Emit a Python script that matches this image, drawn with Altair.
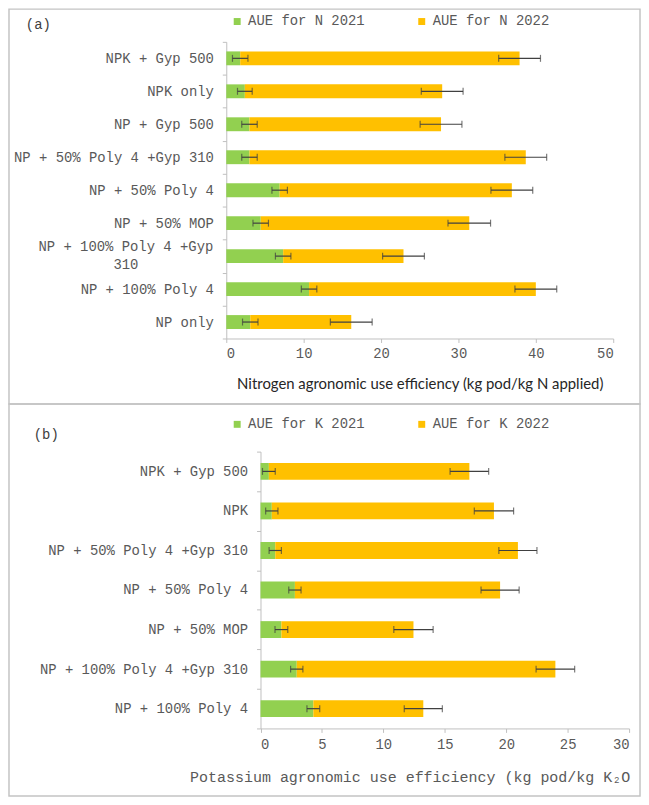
import altair as alt
import pandas as pd

GREEN = "#92D050"
ORANGE = "#FFC000"
MONO = "Liberation Mono"
GREY_TXT = "#595959"
AXIS_LINE = "#BFBFBF"
ERR_COL = "#404040"

# ---------------- Panel (a): nitrogen ----------------
cats_a = ["NPK + Gyp 500", "NPK only", "NP + Gyp 500", "NP + 50% Poly 4 +Gyp 310",
          "NP + 50% Poly 4", "NP + 50% MOP", "NP + 100% Poly 4 +Gyp 310",
          "NP + 100% Poly 4", "NP only"]
n_2021 = [1.8, 2.4, 3.0, 3.0, 6.9, 4.45, 7.35, 10.7, 3.1]
n_2022 = [36.1, 25.5, 24.75, 35.7, 30.0, 26.95, 15.55, 29.3, 13.05]
n_err_2021 = [1.0, 0.95, 1.0, 1.0, 1.0, 1.0, 1.0, 1.0, 1.0]
n_err_2022 = [2.7, 2.7, 2.7, 2.7, 2.7, 2.75, 2.7, 2.7, 2.7]
series_a = ["AUE for N 2021", "AUE for N 2022"]
ticks_a = [0, 10, 20, 30, 40, 50]
title_a = "Nitrogen agronomic use efficiency (kg pod/kg N applied)"

# ---------------- Panel (b): potassium ----------------
cats_b = ["NPK + Gyp 500", "NPK", "NP + 50% Poly 4 +Gyp 310", "NP + 50% Poly 4",
          "NP + 50% MOP", "NP + 100% Poly 4 +Gyp 310", "NP + 100% Poly 4"]
k_2021 = [0.68, 0.92, 1.2, 2.8, 1.7, 2.95, 4.3]
k_2022 = [16.32, 18.08, 19.75, 16.7, 10.75, 21.05, 8.95]
k_err_2021 = [0.52, 0.5, 0.5, 0.5, 0.52, 0.5, 0.52]
k_err_2022 = [1.57, 1.6, 1.55, 1.55, 1.6, 1.57, 1.55]
series_b = ["AUE for K 2021", "AUE for K 2022"]
ticks_b = [0, 5, 10, 15, 20, 25, 30]
title_b = "Potassium agronomic use efficiency (kg pod/kg K\u2082O"

# the one category label that the reference wraps onto two centred lines
WRAPPED = "NP + 100% Poly 4 +Gyp 310"
WRAPPED_LINES = "NP + 100% Poly 4 +Gyp\n310"
hide_wrapped = "datum.value == '" + WRAPPED + "' ? '' : datum.value"


def make_panel(cats, v21, v22, e21, e22, names, xmax, xvals, xtitle, W, H,
               xr, yr, bar_size, tag, tag_xy, legend_xy, title_opts,
               xlabel_pad=4, wrap=False):
    bars, errs = [], []
    for c, a, b, ea, eb in zip(cats, v21, v22, e21, e22):
        bars.append({"cat": c, "series": names[0], "start": 0.0, "end": a})
        bars.append({"cat": c, "series": names[1], "start": a, "end": a + b})
        errs.append({"cat": c, "lo": a - ea, "hi": a + ea})
        errs.append({"cat": c, "lo": a + b - eb, "hi": a + b + eb})
    df_bars = pd.DataFrame(bars)
    df_err = pd.DataFrame(errs)

    yaxis_kw = dict(title=None, offset=-xr[0], tickBand="extent", tickSize=4,
                    tickColor=AXIS_LINE, domainColor=AXIS_LINE, labelPadding=9,
                    labelFont=MONO, labelFontSize=14, labelColor=GREY_TXT,
                    labelLimit=400, grid=False)
    if wrap:
        yaxis_kw["labelExpr"] = hide_wrapped
    yenc = alt.Y("cat:N", sort=cats,
                 scale=alt.Scale(range=list(yr), paddingInner=0, paddingOuter=0),
                 axis=alt.Axis(**yaxis_kw))

    xaxis = alt.Axis(values=xvals, offset=yr[1] - H, tickSize=4, tickColor=AXIS_LINE,
                     domainColor=AXIS_LINE, labelPadding=xlabel_pad, labelFont=MONO,
                     labelFontSize=14, labelColor=GREY_TXT, grid=False,
                     title=xtitle, titleFontWeight="normal", titleBaseline="middle",
                     **title_opts)
    xscale = alt.Scale(domain=[0, xmax], range=list(xr), nice=False)

    bar = alt.Chart(df_bars).mark_bar(size=bar_size).encode(
        y=yenc,
        x=alt.X("start:Q", scale=xscale, axis=xaxis),
        x2="end:Q",
        color=alt.Color("series:N",
                        scale=alt.Scale(domain=names, range=[GREEN, ORANGE]),
                        legend=alt.Legend(title=None, orient="none", direction="horizontal",
                                          legendX=legend_xy[0], legendY=legend_xy[1],
                                          symbolType="square", symbolSize=49,
                                          symbolStrokeWidth=0, labelFont=MONO,
                                          labelFontSize=14, labelColor=GREY_TXT,
                                          labelOffset=4, columnPadding=50, padding=0)),
    )
    rule = alt.Chart(df_err).mark_rule(color=ERR_COL, strokeWidth=1.2).encode(
        y=yenc,
        x=alt.X("lo:Q", scale=xscale, axis=xaxis),
        x2="hi:Q",
    )
    cap_lo = alt.Chart(df_err).mark_tick(color=ERR_COL, thickness=1.2, size=7).encode(
        y=yenc, x=alt.X("lo:Q", scale=xscale, axis=xaxis))
    cap_hi = alt.Chart(df_err).mark_tick(color=ERR_COL, thickness=1.2, size=7).encode(
        y=yenc, x=alt.X("hi:Q", scale=xscale, axis=xaxis))
    label = alt.Chart(pd.DataFrame({"t": [tag]})).mark_text(
        align="left", baseline="middle", font=MONO, fontSize=14, color=ERR_COL
    ).encode(x=alt.value(tag_xy[0]), y=alt.value(tag_xy[1]), text="t:N")

    layers = [bar, rule, cap_lo, cap_hi, label]
    if wrap:
        # centre of the first wrapped line, right edge level with the other labels
        right_edge = xr[0] - 13
        centre = right_edge - len(WRAPPED_LINES.split("\n")[0]) * 14 * 0.6 / 2
        wrapped = alt.Chart(pd.DataFrame({"cat": [WRAPPED], "txt": [WRAPPED_LINES]})).mark_text(
            align="center", baseline="middle", lineBreak="\n", lineHeight=19, dy=-9.5,
            font=MONO, fontSize=14, color=GREY_TXT
        ).encode(y=yenc, x=alt.value(centre), text="txt:N")
        layers.append(wrapped)

    return alt.layer(*layers).properties(width=W, height=H)


panel_a = make_panel(
    cats_a, n_2021, n_2022, n_err_2021, n_err_2022, series_a, 50, ticks_a, title_a,
    W=636, H=398, xr=(219, 609), yr=(33, 332), bar_size=14,
    tag="(a)", tag_xy=(17, 16), legend_xy=(223, 5.5),
    title_opts=dict(titleY=45, titleFont="Lato", titleFontSize=15, titleColor="#262626"),
    wrap=True,
)
panel_b = make_panel(
    cats_b, k_2021, k_2022, k_err_2021, k_err_2022, series_b, 30, ticks_b, title_b,
    W=636, H=395, xr=(253.5, 625), yr=(48, 327), bar_size=17,
    tag="(b)", tag_xy=(25, 31), legend_xy=(223, 13.5), xlabel_pad=5,
    title_opts=dict(titleY=48, titleX=182, titleAlign="left", titleAnchor="start",
                    titleFont=MONO, titleFontSize=15.1, titleColor=GREY_TXT),
)

chart = alt.vconcat(panel_a, panel_b, spacing=0, bounds="flush").resolve_scale(
    color="independent", x="independent", y="independent"
).resolve_legend(color="independent").properties(
    padding={"top": -10, "bottom": 0, "left": 0, "right": 0}, background="white"
).configure_view(stroke="#C4C4C4", strokeWidth=1.5)

chart.save("out.html", embed_options={"renderer": "svg", "actions": False})
